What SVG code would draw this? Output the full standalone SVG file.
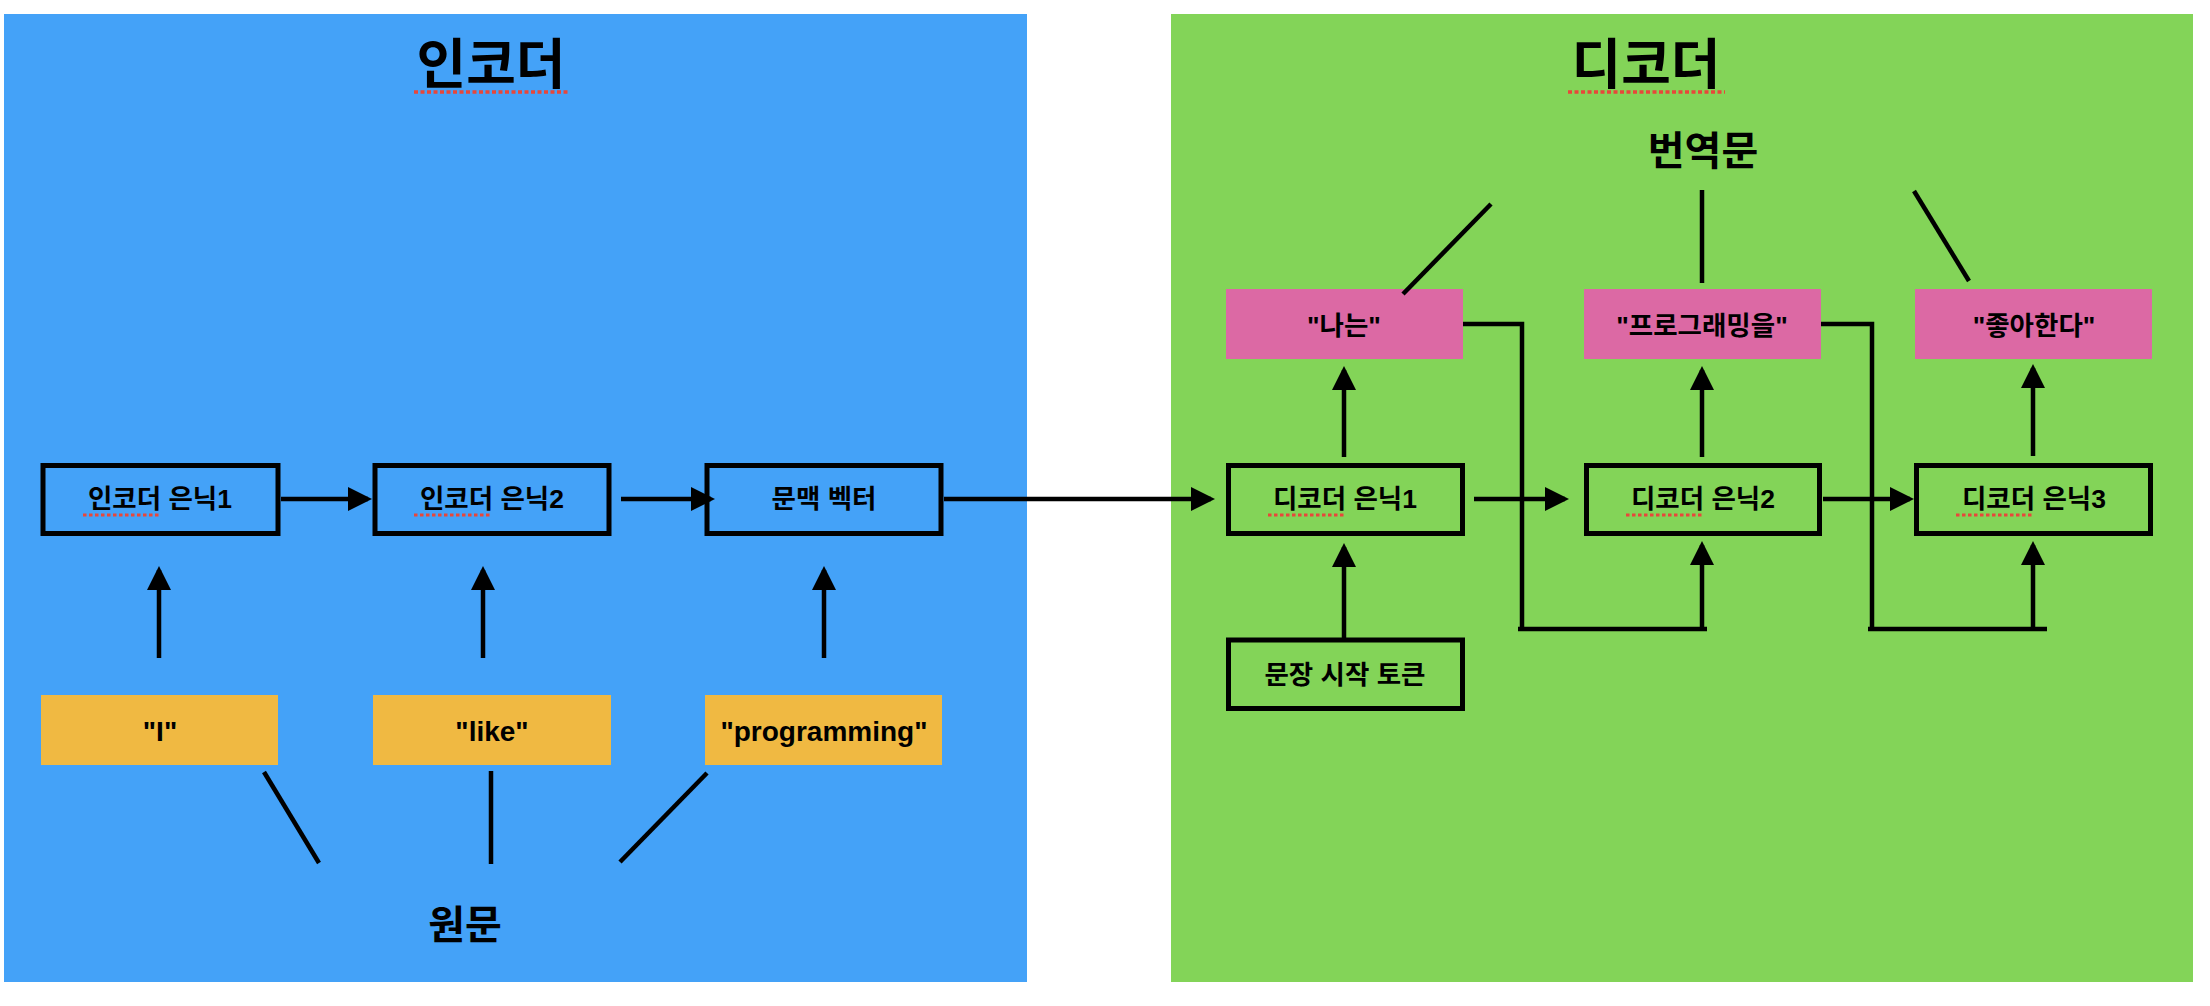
<svg xmlns="http://www.w3.org/2000/svg" width="2210" height="1006" viewBox="0 0 2210 1006">
<defs>
<style>
text{font-family:'Liberation Sans','Noto Sans CJK KR',sans-serif;font-weight:bold;fill:#000;text-anchor:middle}
.t26{font-size:26.5px}
.t28{font-size:28px}
.t37{font-size:40px}
.t50{font-size:54px}
.box{fill:none;stroke:#000;stroke-width:5}
.yel{fill:#F0B942}
.pink{fill:#DC69A4}
.ln{stroke:#000;stroke-width:4.5;fill:none}
.arr{stroke:#000;stroke-width:4.5;fill:none;marker-end:url(#ah)}
.sq{stroke:#E8473A;stroke-width:3.5;stroke-dasharray:4 2.5;fill:none}
.sqs{stroke:#E8473A;stroke-width:3;stroke-dasharray:3.5 2.5;fill:none}
</style>
<marker id="ah" markerUnits="userSpaceOnUse" markerWidth="24" markerHeight="24" refX="20" refY="12" orient="auto">
<path d="M0,0 L24,12 L0,24 z" fill="#000"/>
</marker>
</defs>
<rect width="2210" height="1006" fill="#fff"/>
<g id="encoder-panel">
<rect x="4" y="14" width="1023" height="968" fill="#44A2F8"/>
<text class="t50" x="491" y="84">인코더</text>
<line class="sq" x1="414" y1="92" x2="570" y2="92"/>
</g>
<g id="decoder-panel">
<rect x="1171" y="14" width="1022" height="968" fill="#83D458"/>
<text class="t50" x="1646" y="84">디코더</text>
<line class="sq" x1="1568" y1="92" x2="1725" y2="92"/>
</g>
<g id="enc-h1"><rect class="box" x="43" y="465.5" width="235" height="68"/><text class="t26" x="160" y="508">인코더 은닉1</text><line class="sqs" x1="83" y1="515" x2="160" y2="515"/></g>
<g id="enc-h2"><rect class="box" x="375" y="465.5" width="234" height="68"/><text class="t26" x="492" y="508">인코더 은닉2</text><line class="sqs" x1="414" y1="515" x2="490" y2="515"/></g>
<g id="context"><rect class="box" x="707" y="465.5" width="234" height="68"/><text class="t26" x="824" y="508">문맥 벡터</text></g>
<g id="tok-i"><rect class="yel" x="41" y="695" width="237" height="70"/><text class="t28" x="160" y="741">"I"</text></g>
<g id="tok-like"><rect class="yel" x="373" y="695" width="238" height="70"/><text class="t28" x="492" y="741">"like"</text></g>
<g id="tok-prog"><rect class="yel" x="705" y="695" width="237" height="70"/><text class="t28" x="824" y="741">"programming"</text></g>
<g id="source"><text class="t37" x="465" y="939">원문</text></g>
<g id="dec-h1"><rect class="box" x="1228.5" y="465.5" width="234" height="68"/><text class="t26" x="1345" y="508">디코더 은닉1</text><line class="sqs" x1="1268" y1="515" x2="1344" y2="515"/></g>
<g id="dec-h2"><rect class="box" x="1586.5" y="465.5" width="233" height="68"/><text class="t26" x="1703" y="508">디코더 은닉2</text><line class="sqs" x1="1626" y1="515" x2="1702" y2="515"/></g>
<g id="dec-h3"><rect class="box" x="1916.5" y="465.5" width="234" height="68"/><text class="t26" x="2034" y="508">디코더 은닉3</text><line class="sqs" x1="1956" y1="515" x2="2032" y2="515"/></g>
<g id="start-token"><rect class="box" x="1228.5" y="640" width="234" height="68.5"/><text class="t26" x="1345" y="684">문장 시작 토큰</text></g>
<g id="out-na"><rect class="pink" x="1226" y="289" width="237" height="70"/><text class="t26" x="1344" y="335">"나는"</text></g>
<g id="out-prog"><rect class="pink" x="1584" y="289" width="237" height="70"/><text class="t26" x="1702" y="335">"프로그래밍을"</text></g>
<g id="out-like"><rect class="pink" x="1915" y="289" width="237" height="70"/><text class="t26" x="2034" y="335">"좋아한다"</text></g>
<g id="target"><text class="t37" x="1703" y="165">번역문</text></g>
<g id="connectors">
<line class="arr" x1="281" y1="499" x2="368" y2="499"/>
<line class="arr" x1="621" y1="499" x2="711" y2="499"/>
<line class="arr" x1="944" y1="499" x2="1211" y2="499"/>
<line class="arr" x1="159" y1="658" x2="159" y2="570"/>
<line class="arr" x1="483" y1="658" x2="483" y2="570"/>
<line class="arr" x1="824" y1="658" x2="824" y2="570"/>
<line class="ln" x1="264" y1="772" x2="319" y2="863"/>
<line class="ln" x1="491" y1="771" x2="491" y2="864"/>
<line class="ln" x1="707" y1="773" x2="620" y2="862"/>
<line class="arr" x1="1474" y1="499" x2="1565" y2="499"/>
<line class="arr" x1="1823" y1="499" x2="1910" y2="499"/>
<line class="arr" x1="1344" y1="457" x2="1344" y2="370"/>
<line class="arr" x1="1702" y1="457" x2="1702" y2="370"/>
<line class="arr" x1="2033" y1="456" x2="2033" y2="368"/>
<line class="arr" x1="1344" y1="638" x2="1344" y2="547"/>
<polyline class="ln" points="1463,324 1522,324 1522,629"/>
<line class="ln" x1="1518" y1="629" x2="1707" y2="629"/>
<line class="arr" x1="1702" y1="631" x2="1702" y2="545"/>
<polyline class="ln" points="1821,324 1872,324 1872,629"/>
<line class="ln" x1="1868" y1="629" x2="2047" y2="629"/>
<line class="arr" x1="2033" y1="631" x2="2033" y2="545"/>
<line class="ln" x1="1491" y1="204" x2="1403" y2="294"/>
<line class="ln" x1="1702" y1="190" x2="1702" y2="283"/>
<line class="ln" x1="1914" y1="191" x2="1969" y2="281"/>
</g>
</svg>
